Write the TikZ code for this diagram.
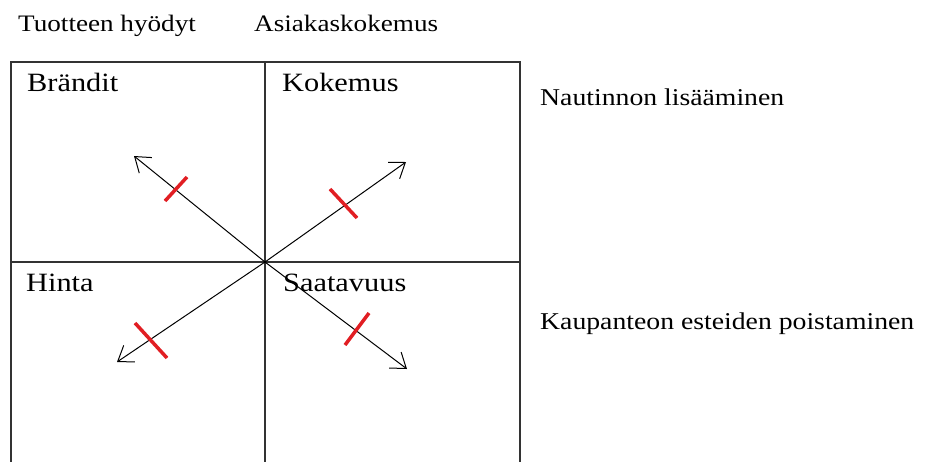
\documentclass[tikz,border=0pt]{standalone}
\usepackage{fontspec}
\setmainfont{Liberation Serif}
\usetikzlibrary{arrows.meta}
\definecolor{tickred}{RGB}{225,30,35}
\newcommand{\sx}[1]{\scalebox{1.15}[1]{#1}}
\tikzset{
  lbl/.style={inner sep=0pt, anchor=base west},
  smalllbl/.style={lbl, font=\fontsize{23.6}{28}\selectfont},
  sidelbl/.style={lbl, font=\fontsize{24.1}{29}\selectfont},
  quadlbl/.style={lbl, font=\fontsize{26.4}{31}\selectfont},
  gridline/.style={line width=1.4pt, draw=black!80},
  axis/.style={line width=1pt, draw=black, -{Straight Barb[length=14pt,width=20pt]}},
  redtick/.style={line width=3.5pt, draw=tickred},
}
\begin{document}
\begin{tikzpicture}[x=1pt,y=-1pt]
\useasboundingbox (0,0) rectangle (925,461);
\clip (0,0) rectangle (925,461);
% texts
\node[smalllbl] (th) at (18,31) {\sx{Tuotteen hyödyt}};
\node[smalllbl] (ak) at (254,31) {\sx{Asiakaskokemus}};
\node[quadlbl] (br) at (27,91) {\sx{Brändit}};
\node[quadlbl] (ko) at (282,91) {\sx{Kokemus}};
\node[quadlbl] (hi) at (26,291) {\sx{Hinta}};
\node[quadlbl] (sa) at (283,291) {\sx{Saatavuus}};
\node[sidelbl] (na) at (540,105) {\sx{Nautinnon lisääminen}};
\node[sidelbl] (ka) at (540,329) {\sx{Kaupanteon esteiden poistaminen}};
% grid
\coordinate (tl) at (11,62);
\coordinate (tm) at (265,62);
\coordinate (tr) at (520,62);
\coordinate (bl) at (11,470);
\coordinate (bm) at (265,470);
\coordinate (br2) at (520,470);
\coordinate (ml) at (11,262);
\coordinate (mr) at (520,262);
\draw[gridline] (bl) -- (tl) -- (tr) -- (br2);
\draw[gridline] (tm) -- (bm);
\draw[gridline] (ml) -- (mr);
% arrows
\coordinate (c) at (265,262);
\coordinate (ul) at (134,156);
\coordinate (ur) at (406,162);
\coordinate (ll) at (117,362);
\coordinate (lr) at (407,369);
\draw[axis] (c) -- (ul);
\draw[axis] (c) -- (ur);
\draw[axis] (c) -- (ll);
\draw[axis] (c) -- (lr);
% red ticks
\draw[redtick] (165,201) -- (187,177);
\draw[redtick] (330,189) -- (357,218);
\draw[redtick] (135,323) -- (167,358);
\draw[redtick] (345,345) -- (369,313);
\end{tikzpicture}
\end{document}
